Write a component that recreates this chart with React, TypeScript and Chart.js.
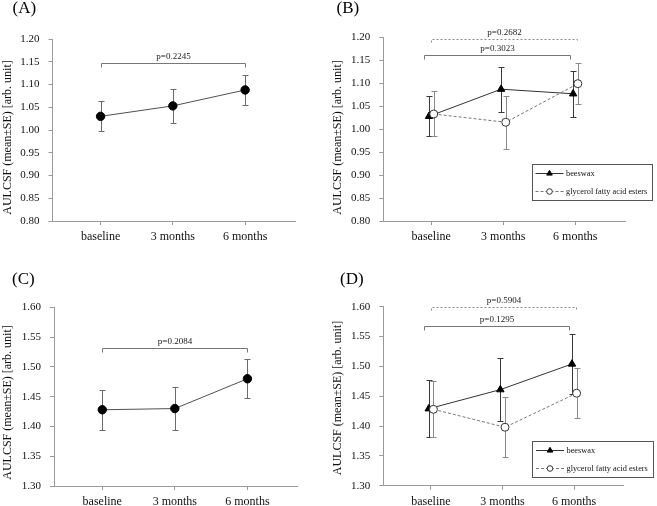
import React, { useEffect, useRef } from "react";
import { Chart, registerables } from "chart.js";
Chart.register(...registerables);

const SERIF = "'Liberation Serif', 'Times New Roman', serif";
const AXIS = "#9a9a9a";

// ---------- data ----------
const categories = ["baseline", "3 months", "6 months"];
const seriesNames = ["beeswax", "glycerol fatty acid esters"];
const yTitle = "AULCSF (mean\u00B1SE) [arb. unit]";

const ticksAB = [0.8, 0.85, 0.9, 0.95, 1.0, 1.05, 1.1, 1.15, 1.2];
const ticksCD = [1.3, 1.35, 1.4, 1.45, 1.5, 1.55, 1.6];

// Panel A
const aMean = [1.030, 1.053, 1.088];
const aSE = [0.033, 0.038, 0.033];
const aPValues = ["p=0.2245"];
const aBracketY = [1.147];

// Panel B
const bBeeswaxMean = [1.028, 1.087, 1.077];
const bBeeswaxSE = [0.044, 0.049, 0.050];
const bGlycerolMean = [1.033, 1.015, 1.099];
const bGlycerolSE = [0.049, 0.058, 0.044];
const bPValues = ["p=0.3023", "p=0.2682"];
const bBracketY = [1.162, 1.196];

// Panel C
const cMean = [1.428, 1.430, 1.480];
const cSE = [0.034, 0.036, 0.033];
const cPValues = ["p=0.2084"];
const cBracketY = [1.532];

// Panel D
const dBeeswaxMean = [1.429, 1.461, 1.504];
const dBeeswaxSE = [0.048, 0.053, 0.050];
const dGlycerolMean = [1.428, 1.398, 1.455];
const dGlycerolSE = [0.047, 0.050, 0.042];
const dPValues = ["p=0.1295", "p=0.5904"];
const dBracketY = [1.567, 1.599];

// ---------- styles ----------
const STYLES: any = {
  single: { line: "#505050", dash: [], point: "circle", r: 4.2, fill: "#000", border: "#000", err: "#6a6a6a", offset: 0 },
  beeswax: { line: "#333333", dash: [], point: "triangle", r: 4.3, fill: "#000", border: "#000", err: "#3a3a3a", offset: -0.03 },
  glycerol: { line: "#777777", dash: [3, 2], point: "circle", r: 4, fill: "#fff", border: "#333", err: "#8a8a8a", offset: 0.035 },
};

const panels: any[] = [
  {
    x: 0, y: 0, w: 330, h: 250,
    area: { left: 52.5, right: 295, top: 39, bottom: 221 },
    yTicks: ticksAB,
    series: [{ kind: "single", mean: aMean, se: aSE, label: "" }],
    brackets: [{ from: 0, to: 2, y: aBracketY[0], text: aPValues[0], dashed: false }],
    legend: null,
    tag: "(A)", tagPos: [12.5, 9], titlePos: [7.5, 137.5],
  },
  {
    x: 330, y: 0, w: 327, h: 250,
    area: { left: 53.3, right: 295, top: 37.3, bottom: 221 },
    yTicks: ticksAB,
    series: [
      { kind: "beeswax", mean: bBeeswaxMean, se: bBeeswaxSE, label: seriesNames[0] },
      { kind: "glycerol", mean: bGlycerolMean, se: bGlycerolSE, label: seriesNames[1] },
    ],
    brackets: [
      { from: -0.1, to: 1.93, y: bBracketY[0], text: bPValues[0], dashed: false },
      { from: 0, to: 2.03, y: bBracketY[1], text: bPValues[1], dashed: true },
    ],
    legend: { x: 201.5, y: 163.5, w: 120, h: 36 },
    tag: "(B)", tagPos: [6.5, 9], titlePos: [8, 137.5],
  },
  {
    x: 0, y: 250, w: 330, h: 256,
    area: { left: 54, right: 297.5, top: 57.3, bottom: 236 },
    yTicks: ticksCD,
    series: [{ kind: "single", mean: cMean, se: cSE, label: "" }],
    brackets: [{ from: 0, to: 2, y: cBracketY[0], text: cPValues[0], dashed: false }],
    legend: null,
    tag: "(C)", tagPos: [12, 30], titlePos: [7.5, 152.5],
  },
  {
    x: 330, y: 250, w: 327, h: 256,
    area: { left: 53.3, right: 293.5, top: 56.7, bottom: 235.7 },
    yTicks: ticksCD,
    series: [
      { kind: "beeswax", mean: dBeeswaxMean, se: dBeeswaxSE, label: seriesNames[0] },
      { kind: "glycerol", mean: dGlycerolMean, se: dGlycerolSE, label: seriesNames[1] },
    ],
    brackets: [
      { from: -0.1, to: 1.93, y: dBracketY[0], text: dPValues[0], dashed: false },
      { from: 0, to: 2.02, y: dBracketY[1], text: dPValues[1], dashed: true },
    ],
    legend: { x: 202, y: 190.5, w: 121, h: 36 },
    tag: "(D)", tagPos: [10, 29.5], titlePos: [8, 148],
  },
];

function drawMarker(ctx: CanvasRenderingContext2D, kind: string, x: number, y: number, r: number) {
  const st = STYLES[kind];
  ctx.save();
  ctx.fillStyle = st.fill;
  ctx.strokeStyle = st.border;
  ctx.lineWidth = 1;
  ctx.setLineDash([]);
  ctx.beginPath();
  if (st.point === "triangle") {
    let rad = 0;
    ctx.moveTo(x + Math.sin(rad) * r, y - Math.cos(rad) * r);
    rad += (2 * Math.PI) / 3;
    ctx.lineTo(x + Math.sin(rad) * r, y - Math.cos(rad) * r);
    rad += (2 * Math.PI) / 3;
    ctx.lineTo(x + Math.sin(rad) * r, y - Math.cos(rad) * r);
    ctx.closePath();
  } else {
    ctx.arc(x, y, r, 0, Math.PI * 2);
  }
  ctx.fill();
  ctx.stroke();
  ctx.restore();
}

function buildConfig(p: any) {
  const datasets = p.series.map((s: any, si: number) => {
    const st = STYLES[s.kind];
    return {
      label: s.label,
      data: s.mean.map((m: number, i: number) => ({ x: i + st.offset, y: m })),
      se: s.se,
      kind: s.kind,
      errColor: st.err,
      borderColor: st.line,
      borderDash: st.dash,
      borderWidth: 1,
      pointStyle: st.point,
      pointRadius: st.r,
      pointBackgroundColor: st.fill,
      pointBorderColor: st.border,
      pointBorderWidth: 1,
      pointHoverRadius: st.r,
      tension: 0,
      fill: false,
      order: p.series.length - si,
    };
  });

  const errorBars = {
    id: "errorBars",
    beforeDatasetsDraw(chart: any) {
      const { ctx } = chart;
      const xs = chart.scales.x, ys = chart.scales.y;
      chart.data.datasets.forEach((ds: any) => {
        ctx.save();
        ctx.strokeStyle = ds.errColor;
        ctx.lineWidth = 1;
        ds.data.forEach((pt: any, i: number) => {
          const px = Math.round(xs.getPixelForValue(pt.x)) + 0.5;
          const top = Math.round(ys.getPixelForValue(pt.y + ds.se[i])) + 0.5;
          const bot = Math.round(ys.getPixelForValue(pt.y - ds.se[i])) + 0.5;
          const cap = 3;
          ctx.beginPath();
          ctx.moveTo(px, top); ctx.lineTo(px, bot);
          ctx.moveTo(px - cap, top); ctx.lineTo(px + cap, top);
          ctx.moveTo(px - cap, bot); ctx.lineTo(px + cap, bot);
          ctx.stroke();
        });
        ctx.restore();
      });
    },
  };

  const decorations = {
    id: "decorations",
    afterDraw(chart: any) {
      const { ctx } = chart;
      const xs = chart.scales.x, ys = chart.scales.y;
      // brackets
      p.brackets.forEach((b: any) => {
        const x1 = Math.round(xs.getPixelForValue(b.from)) + 0.5;
        const x2 = Math.round(xs.getPixelForValue(b.to)) + 0.5;
        const yy = Math.round(ys.getPixelForValue(b.y)) + 0.5;
        const drop = b.dashed ? 3 : 4;
        ctx.save();
        ctx.strokeStyle = b.dashed ? "#8a8a8a" : "#777";
        ctx.lineWidth = 1;
        ctx.setLineDash(b.dashed ? [2, 2] : []);
        ctx.beginPath();
        ctx.moveTo(x1, yy + drop); ctx.lineTo(x1, yy); ctx.lineTo(x2, yy); ctx.lineTo(x2, yy + drop);
        ctx.stroke();
        ctx.setLineDash([]);
        ctx.fillStyle = "#222";
        ctx.font = `9px ${SERIF}`;
        ctx.textAlign = "center";
        ctx.textBaseline = "middle";
        ctx.fillText(b.text, (x1 + x2) / 2, yy - 7);
        ctx.restore();
      });
      // legend
      if (p.legend) {
        const L = p.legend;
        ctx.save();
        ctx.strokeStyle = "#555";
        ctx.lineWidth = 1;
        ctx.strokeRect(Math.round(L.x) + 0.5, Math.round(L.y) + 0.5, L.w, L.h);
        chart.data.datasets.forEach((ds: any, i: number) => {
          const st = STYLES[ds.kind];
          const ey = Math.round(L.y + 9.5 + i * 17.5) + 0.5;
          ctx.strokeStyle = st.line;
          ctx.setLineDash(st.dash);
          ctx.beginPath();
          ctx.moveTo(L.x + 4, ey); ctx.lineTo(L.x + 32, ey);
          ctx.stroke();
          ctx.setLineDash([]);
          drawMarker(ctx, ds.kind, L.x + 18, ey, st.point === "triangle" ? 3.2 : 2.8);
          ctx.fillStyle = "#111";
          ctx.font = `8.3px ${SERIF}`;
          ctx.textAlign = "left";
          ctx.textBaseline = "middle";
          ctx.fillText(ds.label, L.x + 34.5, ey);
        });
        ctx.restore();
      }
      // y title
      ctx.save();
      ctx.translate(p.titlePos[0], p.titlePos[1]);
      ctx.rotate(-Math.PI / 2);
      ctx.fillStyle = "#111";
      ctx.font = `12px ${SERIF}`;
      ctx.textAlign = "center";
      ctx.textBaseline = "middle";
      ctx.fillText(yTitle, 0, 0);
      ctx.restore();
      // panel tag
      ctx.save();
      ctx.fillStyle = "#000";
      ctx.font = `17px ${SERIF}`;
      ctx.textAlign = "left";
      ctx.textBaseline = "middle";
      ctx.fillText(p.tag, p.tagPos[0], p.tagPos[1]);
      ctx.restore();
    },
  };

  const yt = p.yTicks;
  return {
    type: "line",
    data: { datasets },
    options: {
      animation: false,
      responsive: false,
      maintainAspectRatio: false,
      devicePixelRatio: 1,
      layout: { padding: { left: 0, top: p.area.top, right: p.w - p.area.right, bottom: 0 } },
      plugins: { legend: { display: false }, tooltip: { enabled: false } },
      events: [],
      scales: {
        x: {
          type: "linear",
          min: -0.665,
          max: 2.69,
          afterBuildTicks: (s: any) => { s.ticks = categories.map((_, i) => ({ value: i })); },
          afterFit: (s: any) => { s.height = p.h - p.area.bottom; },
          ticks: {
            callback: (v: number) => categories[Math.round(v)],
            font: { family: SERIF, size: 12 },
            color: "#111",
            padding: 5,
            maxRotation: 0,
            autoSkip: false,
          },
          grid: { drawOnChartArea: false, drawTicks: true, tickLength: 4, color: AXIS, tickColor: AXIS },
          border: { display: true, color: AXIS, width: 1 },
        },
        y: {
          type: "linear",
          min: yt[0],
          max: yt[yt.length - 1],
          afterBuildTicks: (s: any) => { s.ticks = yt.map((v: number) => ({ value: v })); },
          afterFit: (s: any) => { s.width = p.area.left; },
          ticks: {
            callback: (v: number) => Number(v).toFixed(2),
            font: { family: SERIF, size: 11 },
            color: "#111",
            padding: 9,
            autoSkip: false,
          },
          grid: { drawOnChartArea: false, drawTicks: true, tickLength: 4, color: AXIS, tickColor: AXIS },
          border: { display: true, color: AXIS, width: 1 },
        },
      },
    },
    plugins: [errorBars, decorations],
  };
}

function Panel({ cfg }: { cfg: any }) {
  const ref = useRef<HTMLCanvasElement>(null);
  useEffect(() => {
    const chart = new Chart(ref.current as HTMLCanvasElement, buildConfig(cfg) as any);
    return () => chart.destroy();
  }, [cfg]);
  return (
    <canvas
      ref={ref}
      width={cfg.w}
      height={cfg.h}
      style={{ position: "absolute", left: cfg.x, top: cfg.y, width: cfg.w, height: cfg.h }}
    />
  );
}

export default function App() {
  return (
    <div style={{ position: "absolute", left: 0, top: 0, width: 657, height: 506, background: "#fff", overflow: "hidden" }}>
      {panels.map((p, i) => (
        <Panel key={i} cfg={p} />
      ))}
    </div>
  );
}
